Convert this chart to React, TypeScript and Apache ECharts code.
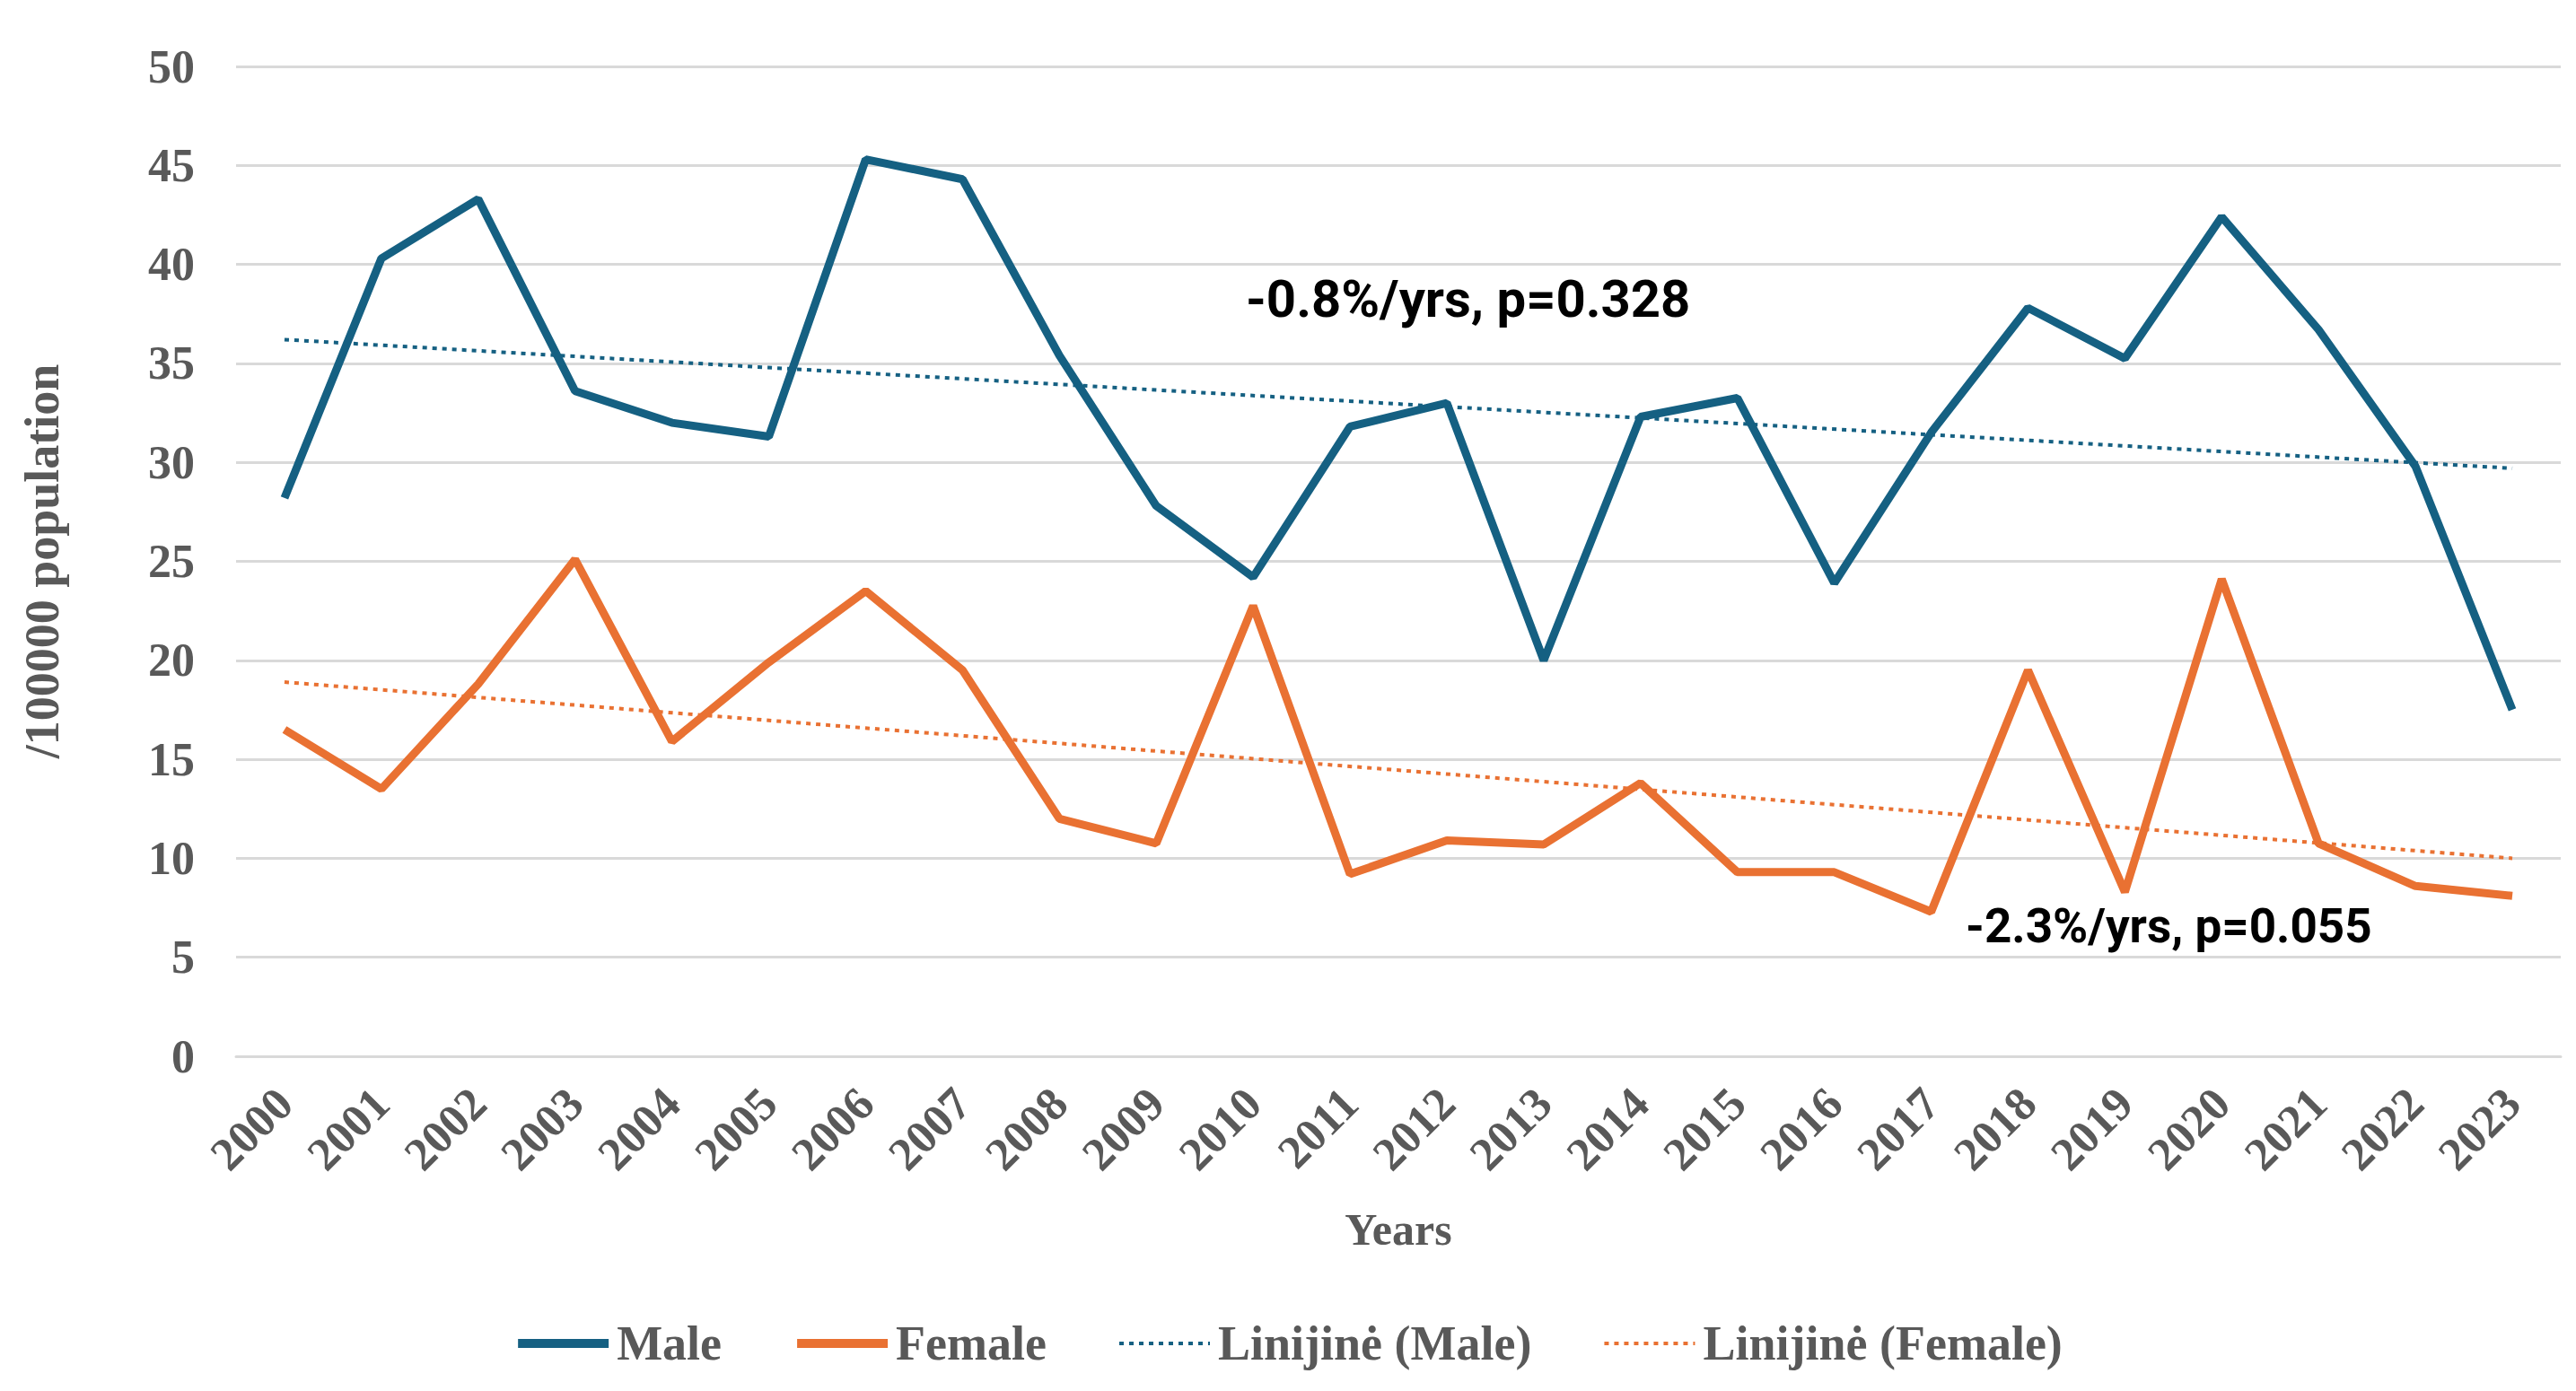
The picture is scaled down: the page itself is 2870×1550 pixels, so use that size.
import React, { useEffect, useRef } from 'react';
import * as echarts from 'echarts';

const years = ['2000','2001','2002','2003','2004','2005','2006','2007','2008','2009','2010','2011','2012','2013','2014','2015','2016','2017','2018','2019','2020','2021','2022','2023'];
const maleRate = [28.2, 40.3, 43.3, 33.6, 32.0, 31.3, 45.3, 44.3, 35.4, 27.8, 24.2, 31.8, 33.0, 20.0, 32.3, 33.25, 23.9, 31.5, 37.8, 35.25, 42.4, 36.7, 29.8, 17.5];
const femaleRate = [16.5, 13.5, 18.8, 25.1, 15.9, 19.9, 23.5, 19.5, 12.0, 10.75, 22.75, 9.2, 10.9, 10.7, 13.8, 9.3, 9.3, 7.3, 19.5, 8.3, 24.1, 10.75, 8.6, 8.1];
const maleTrendEnds = [36.2, 29.7];
const femaleTrendEnds = [18.9, 10.0];
const seriesNames = ['Male', 'Female', 'Linijinė (Male)', 'Linijinė (Female)'];
const yTicks = { min: 0, max: 50, interval: 5 };
const annotations = ['-0.8%/yrs, p=0.328', '-2.3%/yrs, p=0.055'];

const trendData = (ends: number[]) =>
  years.map((_, i) => (i === 0 ? ends[0] : i === years.length - 1 ? ends[1] : null));

const SERIF = '"Liberation Serif", "Times New Roman", serif';
const SANS = 'Roboto, "Liberation Sans", sans-serif';
const GREY = '#595959';
const BLUE = '#156082';
const ORANGE = '#E97132';

export default function App() {
  const ref = useRef<HTMLDivElement>(null);
  useEffect(() => {
    document.body.style.margin = '0';
    const chart = echarts.init(ref.current!, null, { renderer: 'svg' });
    const labelFont = { fontFamily: SERIF, fontWeight: 'bold' as const, fontSize: 52, color: GREY };
    chart.setOption({
      animation: false,
      backgroundColor: '#ffffff',
      grid: { left: 263, right: 17, top: 74, bottom: 373, containLabel: false },
      xAxis: {
        type: 'category',
        data: years,
        boundaryGap: true,
        axisLine: { show: true, lineStyle: { color: '#d9d9d9', width: 3 } },
        axisTick: { show: false },
        axisLabel: { ...labelFont, rotate: 45, margin: 44, interval: 0 },
        name: 'Years',
        nameLocation: 'middle',
        nameGap: 168,
        nameTextStyle: { ...labelFont, fontSize: 50 },
      },
      yAxis: {
        type: 'value',
        min: yTicks.min,
        max: yTicks.max,
        interval: yTicks.interval,
        axisLine: { show: false },
        axisTick: { show: false },
        axisLabel: { ...labelFont, margin: 46 },
        splitLine: { lineStyle: { color: '#d9d9d9', width: 3 } },
        name: '/100000 population',
        nameLocation: 'middle',
        nameRotate: 90,
        nameGap: 189,
        nameTextStyle: { ...labelFont, fontSize: 54 },
      },
      legend: {
        data: [
          { name: seriesNames[0], lineStyle: { width: 10, color: BLUE } },
          { name: seriesNames[1], lineStyle: { width: 10, color: ORANGE } },
          { name: seriesNames[2], lineStyle: { width: 4, color: BLUE, type: [5, 6] } },
          { name: seriesNames[3], lineStyle: { width: 4, color: ORANGE, type: [5, 6] } },
        ],
        top: 1465,
        left: 'center',
        itemWidth: 101,
        itemHeight: 14,
        itemGap: 79,
        itemStyle: { opacity: 0 },
        textStyle: { ...labelFont, fontSize: 54, padding: [0, 0, 0, 4] },
      },
      graphic: [
        {
          type: 'text',
          x: 1388,
          y: 333,
          style: { text: annotations[0], fontFamily: SANS, fontWeight: 'bold', fontSize: 58, fill: '#000', align: 'left', verticalAlign: 'middle' },
        },
        {
          type: 'text',
          x: 2190,
          y: 1032,
          style: { text: annotations[1], fontFamily: SANS, fontWeight: 'bold', fontSize: 53, fill: '#000', align: 'left', verticalAlign: 'middle' },
        },
      ],
      series: [
        {
          name: seriesNames[0],
          type: 'line',
          data: maleRate,
          symbol: 'none',
          lineStyle: { color: BLUE, width: 9 },
          itemStyle: { color: BLUE },
          z: 3,
        },
        {
          name: seriesNames[1],
          type: 'line',
          data: femaleRate,
          symbol: 'none',
          lineStyle: { color: ORANGE, width: 9 },
          itemStyle: { color: ORANGE },
          z: 3,
        },
        {
          name: seriesNames[2],
          type: 'line',
          data: trendData(maleTrendEnds),
          connectNulls: true,
          symbol: 'none',
          lineStyle: { color: BLUE, width: 4, type: [5, 6] },
          itemStyle: { color: BLUE },
          z: 4,
        },
        {
          name: seriesNames[3],
          type: 'line',
          data: trendData(femaleTrendEnds),
          connectNulls: true,
          symbol: 'none',
          lineStyle: { color: ORANGE, width: 4, type: [5, 6] },
          itemStyle: { color: ORANGE },
          z: 4,
        },
      ],
    });
    return () => chart.dispose();
  }, []);
  return <div ref={ref} style={{ width: 2870, height: 1550 }} />;
}
